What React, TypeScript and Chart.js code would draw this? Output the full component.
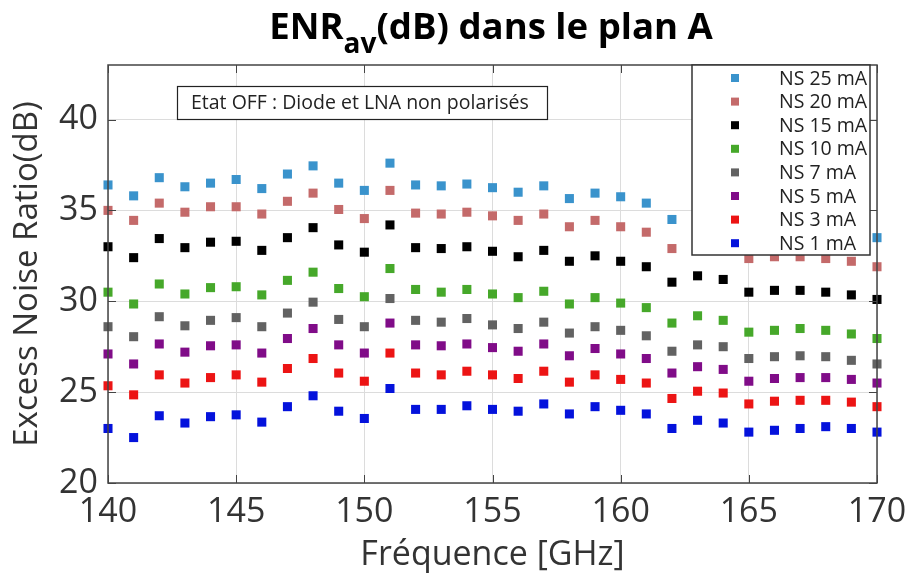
import { useEffect, useRef } from 'react';
import { Chart, registerables } from 'chart.js';

Chart.register(...registerables);

const frequencies = [140, 141, 142, 143, 144, 145, 146, 147, 148, 149, 150, 151, 152, 153, 154, 155, 156, 157, 158, 159, 160, 161, 162, 163, 164, 165, 166, 167, 168, 169, 170];

const ns25 = [36.4, 35.8, 36.8, 36.3, 36.5, 36.7, 36.2, 37.0, 37.45, 36.5, 36.1, 37.6, 36.4, 36.35, 36.45, 36.25, 36.0, 36.35, 35.65, 35.95, 35.75, 35.4, 34.5, 34.7, 34.5, 33.9, 33.9, 33.95, 33.9, 33.8, 33.5];
const ns20 = [35.0, 34.45, 35.4, 34.9, 35.2, 35.2, 34.8, 35.5, 35.95, 35.05, 34.55, 36.1, 34.85, 34.8, 34.9, 34.7, 34.45, 34.8, 34.1, 34.45, 34.1, 33.8, 32.9, 33.2, 33.0, 32.35, 32.45, 32.45, 32.35, 32.2, 31.9];
const ns15 = [33.0, 32.4, 33.45, 32.95, 33.25, 33.3, 32.8, 33.5, 34.05, 33.1, 32.7, 34.2, 32.95, 32.9, 33.0, 32.75, 32.45, 32.8, 32.2, 32.5, 32.2, 31.9, 31.05, 31.4, 31.2, 30.5, 30.6, 30.6, 30.5, 30.35, 30.1];
const ns10 = [30.5, 29.85, 30.95, 30.4, 30.75, 30.8, 30.35, 31.15, 31.6, 30.7, 30.25, 31.8, 30.65, 30.5, 30.65, 30.4, 30.2, 30.55, 29.85, 30.2, 29.9, 29.65, 28.8, 29.2, 28.95, 28.3, 28.4, 28.5, 28.4, 28.2, 27.95];
const ns7 = [28.6, 28.05, 29.15, 28.65, 28.95, 29.1, 28.6, 29.35, 29.95, 29.0, 28.6, 30.15, 28.95, 28.85, 29.05, 28.7, 28.5, 28.85, 28.25, 28.6, 28.4, 28.1, 27.25, 27.6, 27.5, 26.85, 26.95, 27.0, 26.95, 26.75, 26.55];
const ns5 = [27.1, 26.55, 27.65, 27.2, 27.55, 27.6, 27.15, 27.95, 28.5, 27.6, 27.15, 28.8, 27.6, 27.55, 27.65, 27.45, 27.25, 27.65, 27.0, 27.4, 27.1, 26.85, 26.05, 26.4, 26.25, 25.6, 25.75, 25.8, 25.8, 25.7, 25.5];
const ns3 = [25.35, 24.85, 25.95, 25.5, 25.8, 25.95, 25.55, 26.3, 26.85, 26.05, 25.6, 27.15, 26.05, 25.95, 26.15, 25.95, 25.75, 26.15, 25.55, 25.95, 25.7, 25.5, 24.65, 25.05, 24.95, 24.35, 24.5, 24.55, 24.55, 24.45, 24.2];
const ns1 = [23.0, 22.5, 23.7, 23.3, 23.65, 23.75, 23.35, 24.2, 24.8, 23.95, 23.55, 25.2, 24.05, 24.05, 24.25, 24.05, 23.95, 24.35, 23.8, 24.2, 24.0, 23.8, 23.0, 23.45, 23.3, 22.8, 22.9, 23.0, 23.1, 23.0, 22.8];

const seriesLabels = ['NS 25 mA', 'NS 20 mA', 'NS 15 mA', 'NS 10 mA', 'NS 7 mA', 'NS 5 mA', 'NS 3 mA', 'NS 1 mA'];
const seriesValues = [ns25, ns20, ns15, ns10, ns7, ns5, ns3, ns1];
const seriesColors = ['#3a93cc', '#c46a6a', '#000000', '#46a82a', '#626262', '#800c88', '#ec1414', '#0412dc'];

const xTicks = [140, 145, 150, 155, 160, 165, 170];
const yTicks = [20, 25, 30, 35, 40];

const titleMain = 'ENR';
const titleSub = 'av';
const titleRest = '(dB) dans le plan A';
const xTitle = 'Fréquence [GHz]';
const yTitle = 'Excess Noise Ratio(dB)';
const noteText = 'Etat OFF : Diode et LNA non polarisés';

const FONT = '"Open Sans", "DejaVu Sans", sans-serif';

const decorPlugin = {
  id: 'decor',
  afterDatasetsDraw(chart: any) {
    const ctx = chart.ctx;
    const { left, right, top, bottom } = chart.chartArea;
    const xs = chart.scales.x;
    const ys = chart.scales.y;
    ctx.save();
    // axis box
    ctx.strokeStyle = '#444444';
    ctx.lineWidth = 1.5;
    ctx.strokeRect(left, top, right - left, bottom - top);
    // inward ticks
    ctx.lineWidth = 1;
    const tl = 8;
    ctx.beginPath();
    xTicks.forEach((v) => {
      const px = Math.round(xs.getPixelForValue(v)) + 0.5;
      ctx.moveTo(px, bottom);
      ctx.lineTo(px, bottom - tl);
      ctx.moveTo(px, top);
      ctx.lineTo(px, top + tl);
    });
    yTicks.forEach((v) => {
      const py = Math.round(ys.getPixelForValue(v)) + 0.5;
      ctx.moveTo(left, py);
      ctx.lineTo(left + tl, py);
      ctx.moveTo(right, py);
      ctx.lineTo(right - tl, py);
    });
    ctx.stroke();

    // annotation box
    ctx.font = `19.5px ${FONT}`;
    const nx = 177, ny = 86, nw = 370, nh = 33;
    ctx.fillStyle = '#ffffff';
    ctx.fillRect(nx, ny, nw, nh);
    ctx.strokeStyle = '#222222';
    ctx.lineWidth = 1.2;
    ctx.strokeRect(nx + 0.5, ny + 0.5, nw, nh);
    ctx.fillStyle = '#222222';
    ctx.textBaseline = 'middle';
    ctx.textAlign = 'left';
    ctx.fillText(noteText, nx + 14, ny + nh / 2 + 1);

    // legend
    const lx = 692, ly = 65, lw = 178, lh = 190;
    ctx.fillStyle = '#ffffff';
    ctx.fillRect(lx, ly, lw, lh);
    ctx.strokeStyle = '#333333';
    ctx.lineWidth = 1.5;
    ctx.strokeRect(lx, ly, lw, lh);
    ctx.font = `19.5px ${FONT}`;
    const ds = chart.data.datasets;
    ds.forEach((d: any, i: number) => {
      const cy = 78 + i * 23.6;
      ctx.fillStyle = d.backgroundColor;
      ctx.fillRect(735 - 4, cy - 4, 8, 8);
      ctx.fillStyle = '#222222';
      ctx.fillText(d.label, 779, cy + 1);
    });
    ctx.restore();
  },
  afterDraw(chart: any) {
    const ctx = chart.ctx;
    ctx.save();
    const bigFont = `bold 36.6px ${FONT}`;
    const subFont = `bold 28px ${FONT}`;
    ctx.font = bigFont;
    const w1 = ctx.measureText(titleMain).width;
    const w3 = ctx.measureText(titleRest).width;
    ctx.font = subFont;
    const w2 = ctx.measureText(titleSub).width;
    const total = w1 + w2 + w3;
    const cx = 491;
    let x = cx - total / 2;
    const base = 39;
    ctx.fillStyle = '#000000';
    ctx.textAlign = 'left';
    ctx.textBaseline = 'alphabetic';
    ctx.font = bigFont;
    ctx.fillText(titleMain, x, base);
    x += w1;
    ctx.font = subFont;
    ctx.fillText(titleSub, x, base + 14);
    x += w2;
    ctx.font = bigFont;
    ctx.fillText(titleRest, x, base);
    ctx.restore();
  },
};

export default function App() {
  const canvasRef = useRef<HTMLCanvasElement | null>(null);

  useEffect(() => {
    if (!canvasRef.current) return;
    const datasets = seriesLabels.map((label, i) => ({
      label,
      data: frequencies.map((f, j) => ({ x: f, y: seriesValues[i][j] })),
      backgroundColor: seriesColors[i],
      borderColor: seriesColors[i],
      pointStyle: 'rect' as const,
      pointRadius: 6.4,
      pointBorderWidth: 0,
      showLine: false,
      clip: false as any,
    }));
    const chart = new Chart(canvasRef.current, {
      type: 'scatter',
      data: { datasets },
      options: {
        animation: false,
        responsive: false,
        events: [],
        layout: { padding: { top: 65, right: 32, left: 0, bottom: 0 } },
        plugins: {
          legend: { display: false },
          tooltip: { enabled: false },
          title: { display: false },
        },
        scales: {
          x: {
            type: 'linear',
            min: 140,
            max: 170,
            afterFit: (s: any) => {
              s.height = 95;
              s.paddingLeft = 0;
              s.paddingRight = 0;
            },
            afterBuildTicks: (s: any) => { s.ticks = xTicks.map((v) => ({ value: v })); },
            grid: { color: '#dcdcdc', drawTicks: false, lineWidth: 1 },
            border: { display: false },
            ticks: {
              font: { family: FONT, size: 34 },
              color: '#333333',
              padding: 9,
              maxRotation: 0,
              callback: (v: any) => String(v),
            },
            title: {
              display: true,
              text: xTitle,
              font: { family: FONT, size: 34 },
              color: '#333333',
              padding: { top: 0, bottom: 2 },
            },
          },
          y: {
            type: 'linear',
            min: 20,
            max: 43,
            afterFit: (s: any) => {
              s.width = 108;
              s.paddingTop = 0;
              s.paddingBottom = 0;
            },
            afterBuildTicks: (s: any) => { s.ticks = yTicks.map((v) => ({ value: v })); },
            grid: { color: '#dcdcdc', drawTicks: false, lineWidth: 1 },
            border: { display: false },
            ticks: {
              font: { family: FONT, size: 34 },
              color: '#333333',
              padding: 10,
              callback: (v: any) => String(v),
            },
            title: {
              display: true,
              text: yTitle,
              font: { family: FONT, size: 33 },
              color: '#333333',
              padding: { top: 8, bottom: 0 },
            },
          },
        },
      },
      plugins: [decorPlugin],
    });
    return () => chart.destroy();
  }, []);

  return (
    <div style={{ position: 'absolute', left: 0, top: 0, width: 909, height: 578, background: '#ffffff' }}>
      <canvas ref={canvasRef} width={909} height={578} style={{ display: 'block' }} />
    </div>
  );
}
